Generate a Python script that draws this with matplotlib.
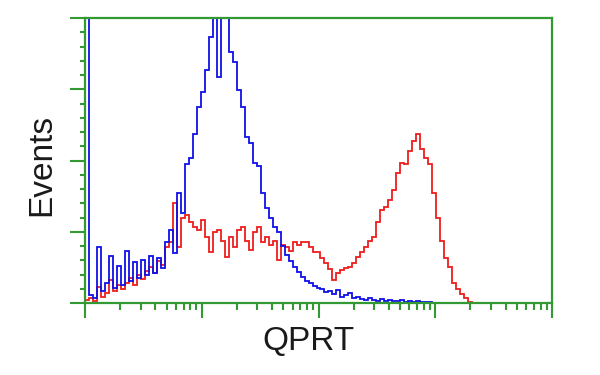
import numpy as np
import matplotlib.pyplot as plt
from matplotlib.ticker import LogLocator, MultipleLocator, NullFormatter

# counts per channel (log-spaced channels over 4 decades)
n_channels = 117
blue_counts = [450, 11, 7, 79, 17, 28, 66, 21, 52, 25, 73, 31, 58, 35, 61, 39, 66, 42, 63, 49,
               85, 103, 70, 155, 127, 195, 204, 237, 275, 296, 327, 374, 423, 317, 423, 409,
               352, 338, 299, 275, 233, 225, 197, 192, 155, 134, 120, 107, 99, 80, 68, 59, 51,
               44, 37, 31, 28, 24, 21, 20, 16, 17, 13, 18, 8, 11, 14, 7, 8, 6, 4, 7, 4, 3, 6,
               3, 4, 3, 3, 4, 1, 3, 1, 3, 1, 1, 1, 0]
red_counts = [4, 7, 3, 23, 8, 14, 32, 17, 25, 20, 28, 35, 25, 39, 34, 45, 51, 42, 59, 54,
              78, 85, 141, 78, 120, 124, 113, 107, 102, 117, 93, 71, 99, 103, 87, 65, 92, 79,
              102, 106, 87, 75, 99, 106, 85, 93, 82, 87, 61, 82, 79, 73, 86, 82, 85, 85, 78,
              72, 71, 63, 56, 48, 32, 42, 47, 49, 51, 56, 65, 71, 79, 87, 93, 113, 131, 135,
              144, 159, 183, 197, 195, 214, 228, 237, 216, 204, 195, 155, 120, 87, 63, 51, 28,
              20, 13, 7, 1]
x_label = 'QPRT'
y_label = 'Events'

green = '#339933'

edges = np.logspace(0, 4, n_channels + 1)

fig = plt.figure(figsize=(6, 3.75), dpi=100)
ax = fig.add_axes([85 / 600, 1 - 303 / 375, 467 / 600, 285 / 375])

ax.stairs(red_counts, edges[:len(red_counts) + 1], color='#ee1c1c', lw=1.3)
ax.stairs(blue_counts, edges[:len(blue_counts) + 1], color='#1010e8', lw=1.3)

ax.set_xscale('log')
ax.set_xlim(1, 1e4)
ax.set_ylim(0, 400)

ax.xaxis.set_major_locator(LogLocator(base=10))
ax.xaxis.set_minor_locator(LogLocator(base=10, subs=range(2, 10)))
ax.xaxis.set_major_formatter(NullFormatter())
ax.xaxis.set_minor_formatter(NullFormatter())
ax.yaxis.set_major_locator(MultipleLocator(100))
ax.yaxis.set_minor_locator(MultipleLocator(20))
ax.yaxis.set_major_formatter(NullFormatter())

for s in ax.spines.values():
    s.set_color(green)
    s.set_linewidth(1.6)

ax.tick_params(axis='both', which='major', direction='out', length=11, width=1.5, color=green)
ax.tick_params(axis='y', which='minor', direction='out', length=3.6, width=1.5, color=green)
ax.tick_params(axis='x', which='minor', direction='out', length=5, width=1.5, color=green)

fig.text(308 / 600, 1 - 342 / 375, x_label, ha='center', va='center',
         fontsize=24, family='Liberation Sans', color='#1a1a1a')
fig.text(42 / 600, 1 - 165 / 375, y_label, ha='center', va='center', rotation=90,
         fontsize=24, family='Liberation Sans', color='#1a1a1a')

fig.savefig('out.png', dpi=100)
